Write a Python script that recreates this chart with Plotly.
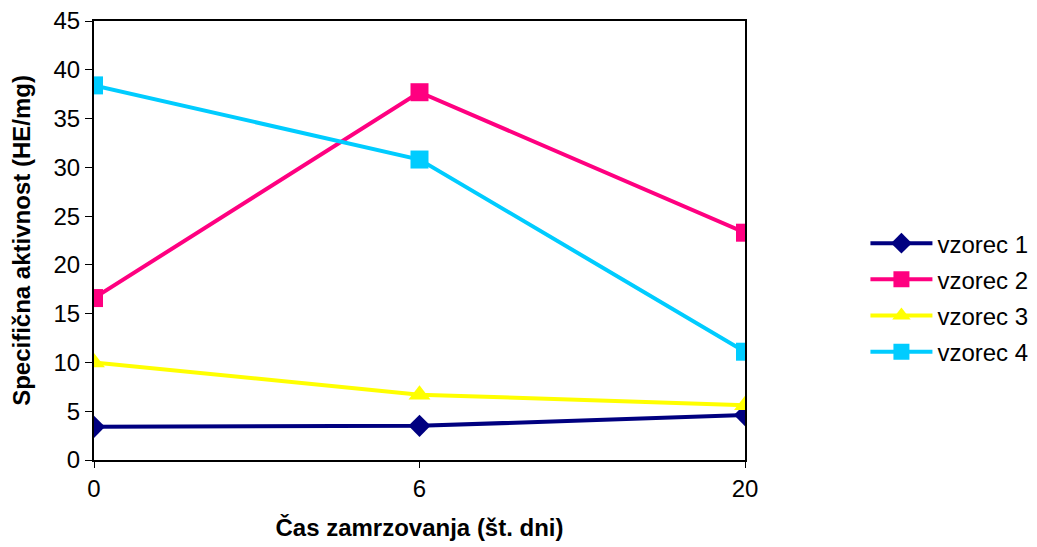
import plotly.graph_objects as go

categories = ["0", "6", "20"]
series_names = ["vzorec 1", "vzorec 2", "vzorec 3", "vzorec 4"]
vzorec1 = [3.4, 3.5, 4.6]
vzorec2 = [16.6, 37.7, 23.3]
vzorec3 = [10.0, 6.7, 5.6]
vzorec4 = [38.4, 30.8, 11.1]

values = [vzorec1, vzorec2, vzorec3, vzorec4]
colors = ["#000080", "#FF0080", "#FFFF00", "#00CCFF"]
symbols = ["diamond", "square", "triangle-up", "square"]
sizes = [17, 18, 19, 18]

fig = go.Figure()
xs = list(range(len(categories)))
for name, vals, c, s, sz in zip(series_names, values, colors, symbols, sizes):
    fig.add_trace(go.Scatter(
        x=xs, y=vals, name=name, mode="lines+markers", legendgroup=name,
        line=dict(color=c, width=4),
        marker=dict(symbol=s, size=sz, color=c),
    ))

font = "Liberation Sans, Arial, sans-serif"
fig.update_layout(
    width=1037, height=547,
    margin=dict(l=94, r=292, t=21, b=87, autoexpand=False),
    paper_bgcolor="white", plot_bgcolor="white",
    font=dict(family=font, color="black"),
    showlegend=True,
    legend=dict(x=1.185, y=0.37, xanchor="left", yanchor="middle",
                font=dict(size=24, family=font), itemwidth=62,
                traceorder="grouped", tracegroupgap=2, bgcolor="rgba(0,0,0,0)"),
    xaxis=dict(
        range=[0, 2], tickvals=xs, ticktext=categories,
        showline=True, linecolor="black", linewidth=2, mirror=True,
        ticks="outside", ticklen=6, tickcolor="black",
        showgrid=False, zeroline=False,
        tickfont=dict(size=24),
        title=dict(text="<b>Čas zamrzovanja (št. dni)</b>", font=dict(size=24), standoff=18),
    ),
    yaxis=dict(
        range=[0, 45], dtick=5,
        showline=True, linecolor="black", linewidth=2, mirror=True,
        ticks="outside", ticklen=7, tickcolor="black",
        showgrid=False, zeroline=False,
        tickfont=dict(size=24),
        title=dict(text="<b>Specifična aktivnost (HE/mg)</b>", font=dict(size=24), standoff=16),
    ),
)

fig.write_html("out.html")
